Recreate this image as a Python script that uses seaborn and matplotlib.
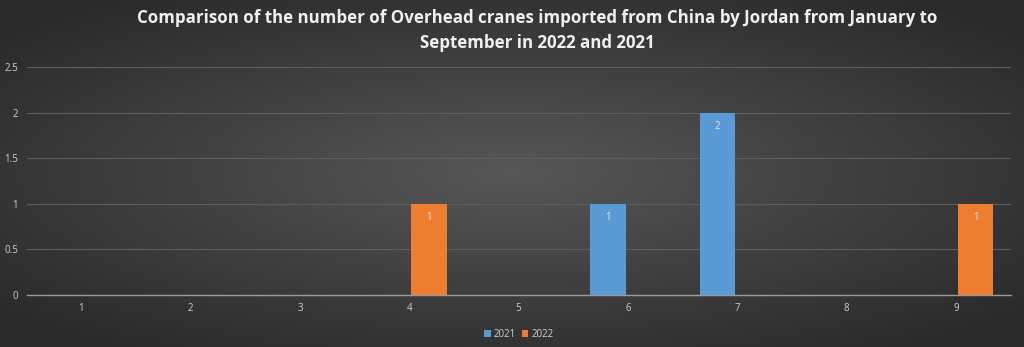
import numpy as np
import pandas as pd
import matplotlib
matplotlib.use("Agg")
import matplotlib.pyplot as plt
import seaborn as sns

months = ["1", "2", "3", "4", "5", "6", "7", "8", "9"]
values_2021 = [0, 0, 0, 0, 0, 1, 2, 0, 0]
values_2022 = [0, 0, 0, 1, 0, 0, 0, 0, 1]
years = ["2021", "2022"]
colors = ["#5B9BD5", "#ED7D31"]
title = "Comparison of the number of Overhead cranes imported from China by Jordan from January to\nSeptember in 2022 and 2021"

df = pd.DataFrame({
    "month": months * 2,
    "value": values_2021 + values_2022,
    "year": [years[0]] * len(months) + [years[1]] * len(months),
})

sns.set_style("white")
plt.rcParams["font.family"] = ["Open Sans", "DejaVu Sans"]

fig = plt.figure(figsize=(10.24, 3.47), dpi=100)

# radial gradient background
bg = fig.add_axes([0, 0, 1, 1], zorder=-10)
yy, xx = np.mgrid[-1:1:347j, -1:1:1024j]
r = np.sqrt((xx * 0.85) ** 2 + (yy * 0.9) ** 2)
bg.imshow(r, cmap=matplotlib.colors.LinearSegmentedColormap.from_list("g", ["#575757", "#2b2b2b"]),
          aspect="auto", extent=[0, 1, 0, 1], vmin=0, vmax=1.1)
bg.axis("off")

ax = fig.add_axes([0.0259, 0.15, 0.961, 0.657])
ax.set_facecolor("none")

sns.barplot(data=df, x="month", y="value", hue="year", order=months, hue_order=years,
            palette=colors, width=0.72, gap=0.1, ax=ax, saturation=1, legend=True,
            zorder=3, linewidth=0, edgecolor="none")

for cont in ax.containers:
    labels = [str(int(b.get_height())) if b.get_height() > 0 else "" for b in cont]
    ax.bar_label(cont, labels=labels, padding=-14, color="#e8e8e8", fontsize=7)

ax.set_ylim(0, 2.5)
ax.set_yticks([0, 0.5, 1, 1.5, 2, 2.5])
ax.set_yticklabels(["0", "0.5", "1", "1.5", "2", "2.5"])
ax.yaxis.grid(True, color="#5e5e5e", linewidth=0.8, zorder=0)
ax.set_axisbelow(True)
ax.tick_params(axis="both", colors="#d0d0d0", labelsize=7, length=0, pad=6)
ax.set_xlabel("")
ax.set_ylabel("")
for s in ["top", "right", "left"]:
    ax.spines[s].set_visible(False)
ax.spines["bottom"].set_color("#9a9a9a")
ax.spines["bottom"].set_linewidth(1)

leg = ax.legend(loc="upper center", bbox_to_anchor=(0.5, -0.11), ncol=2, frameon=False,
                fontsize=7, handlelength=0.7, handleheight=0.7, columnspacing=0.6,
                handletextpad=0.3, labelcolor="#d0d0d0")
for h in leg.legend_handles:
    h.set_edgecolor("none")

fig.text(0.525, 0.975, title, ha="center", va="top", fontsize=12.2, fontweight="bold",
         color="#f0f0f0", linespacing=1.55)

fig.savefig("out.png", dpi=100)
